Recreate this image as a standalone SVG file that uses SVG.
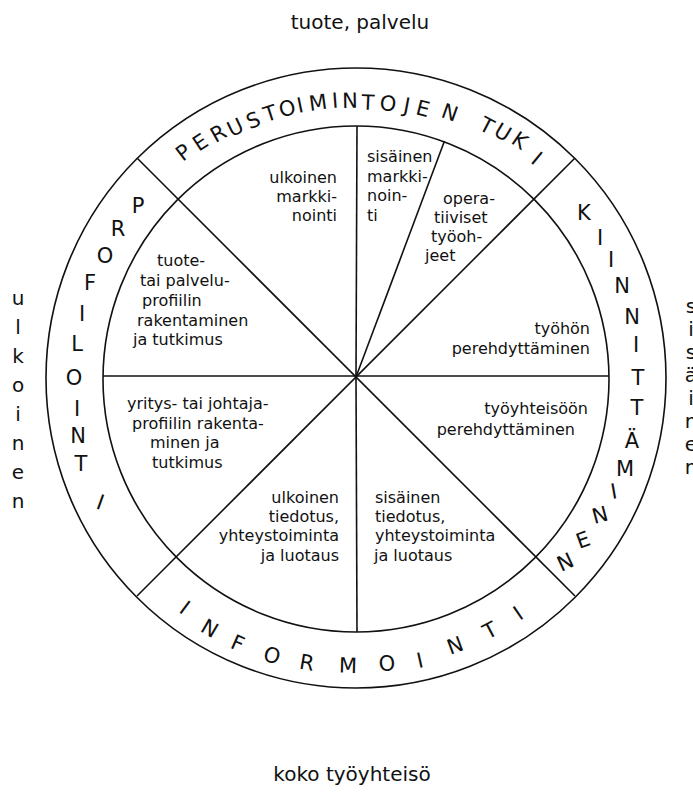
<svg xmlns="http://www.w3.org/2000/svg" width="693" height="794" viewBox="0 0 693 794">
<style>
.ln{fill:none;stroke:#111;stroke-width:1.6}
.lab{font-family:"DejaVu Sans","Liberation Sans",sans-serif;fill:#111}
.out{font-size:20px;text-anchor:middle}
.ring{font-size:21px;text-anchor:middle}
.sec{font-size:16px}
.e{text-anchor:end}
</style>
<rect width="693" height="794" fill="#fff"/>
<g id="wheel-lines" class="ln">
<circle cx="356" cy="378" r="310"/>
<circle cx="356" cy="379" r="253"/>
<line x1="356" y1="377" x2="357" y2="126"/>
<line x1="356" y1="377" x2="357" y2="632"/>
<line x1="103" y1="376" x2="609" y2="376"/>
<line x1="356" y1="377" x2="444.5" y2="141"/>
<line x1="137" y1="158" x2="575" y2="596"/>
<line x1="575" y1="158" x2="137" y2="596"/>
</g>
<g id="outer-labels">
<text class="lab out" x="360" y="29">tuote, palvelu</text>
<text class="lab out" x="352" y="781">koko työyhteisö</text>
<text class="lab out" x="18 18 18 18 18 18 18 18" y="305 334 363 392 421 450 479 508">ulkoinen</text>
<text class="lab out" x="691 691 691 691 691 691 691 691" y="313 336 359 382 405 428 451 474">sisäinen</text>
</g>
<g id="ring-perustoimintojen-tuki">
<text class="lab ring" x="189.0 205.4 222.7 239.2 256.4 272.7 289.2 301.6 319.2 335.6 350.2 367.7 387.2 405.6 421.3 447.9 466 484.1 500.1 516.8 532.8" y="162.0 152.1 143.3 137.3 129.6 122.3 117.5 113.1 110.9 107.9 107.9 109.4 109.7 112.0 113.9 116.7 124 128.9 134.6 142.4 161.9" rotate="-37.6 -33.6 -29.5 -25.8 -21.8 -18 -14.4 -11.6 -7.9 -4.3 -1.2 2.5 6.7 10.6 14 19.5 23 27.5 31 34.7 39.6">PERUSTOIMINTOJEN TUKI</text>
</g>
<g id="ring-kiinnittaminen">
<text class="lab ring" x="584 600 611 622 632 636 638 637 632 625 615 602 586 569" y="220 245 267 293 324 352 385 415 448 476 499 524 549 572" rotate="0 0 0 0 0 0 0 0 0 0 -10 -15 -20 -25">KIINNITTÄMINEN</text>
</g>
<g id="ring-informointi">
<text class="lab ring" x="181.0 207.2 235.4 270.2 305.8 347.8 387.9 421.7 458.2 494.3 522.9" y="611.4 630.7 647.6 660.0 668.4 672.4 671.6 668.2 654.9 639.8 621.1" rotate="36.6 30.2 23.9 16.8 9.8 1.6 -6.2 -12.7 -20.3 -27.9 -34.5">INFORMOINTI</text>
</g>
<g id="ring-profilointi">
<text class="lab ring" x="138 118 105 90 82 77 74 77 78 81 98" y="213 236 263 290 321 351 385 416 443 471 508" rotate="0 0 0 0 0 0 0 0 0 0 20">PROFILOINTI</text>
</g>
<g id="sector-ulkoinen-markkinointi">
<text class="lab sec e"><tspan x="337" y="183">ulkoinen</tspan><tspan x="337" y="202">markki-</tspan><tspan x="337" y="221">nointi</tspan></text>
</g>
<g id="sector-sisainen-markkinointi">
<text class="lab sec"><tspan x="367" y="162">sisäinen</tspan><tspan x="367" y="181.5">markki-</tspan><tspan x="367" y="201">noin-</tspan><tspan x="367" y="220.5">ti</tspan></text>
</g>
<g id="sector-operatiiviset-tyoohjeet">
<text class="lab sec"><tspan x="443" y="204">opera-</tspan><tspan x="434" y="223">tiiviset</tspan><tspan x="431" y="242">työoh-</tspan><tspan x="425" y="261">jeet</tspan></text>
</g>
<g id="sector-tyohon-perehdyttaminen">
<text class="lab sec e"><tspan x="590" y="334">työhön</tspan><tspan x="590" y="354">perehdyttäminen</tspan></text>
</g>
<g id="sector-tyoyhteisoon-perehdyttaminen">
<text class="lab sec e"><tspan x="588" y="414">työyhteisöön</tspan><tspan x="575" y="435">perehdyttäminen</tspan></text>
</g>
<g id="sector-sisainen-tiedotus">
<text class="lab sec"><tspan x="375" y="503">sisäinen</tspan><tspan x="375" y="522">tiedotus,</tspan><tspan x="375" y="541">yhteystoiminta</tspan><tspan x="374" y="561">ja luotaus</tspan></text>
</g>
<g id="sector-ulkoinen-tiedotus">
<text class="lab sec e"><tspan x="339" y="503">ulkoinen</tspan><tspan x="339" y="522">tiedotus,</tspan><tspan x="339" y="541">yhteystoiminta</tspan><tspan x="339" y="561">ja luotaus</tspan></text>
</g>
<g id="sector-yritysprofiili">
<text class="lab sec"><tspan x="127" y="409">yritys- tai johtaja-</tspan><tspan x="132" y="429">profiilin rakenta-</tspan><tspan x="150" y="448">minen ja</tspan><tspan x="152" y="468">tutkimus</tspan></text>
</g>
<g id="sector-tuoteprofiili">
<text class="lab sec"><tspan x="157" y="266">tuote-</tspan><tspan x="140" y="286">tai palvelu-</tspan><tspan x="142" y="306">profiilin</tspan><tspan x="137" y="326">rakentaminen</tspan><tspan x="133" y="345">ja tutkimus</tspan></text>
</g>
</svg>
